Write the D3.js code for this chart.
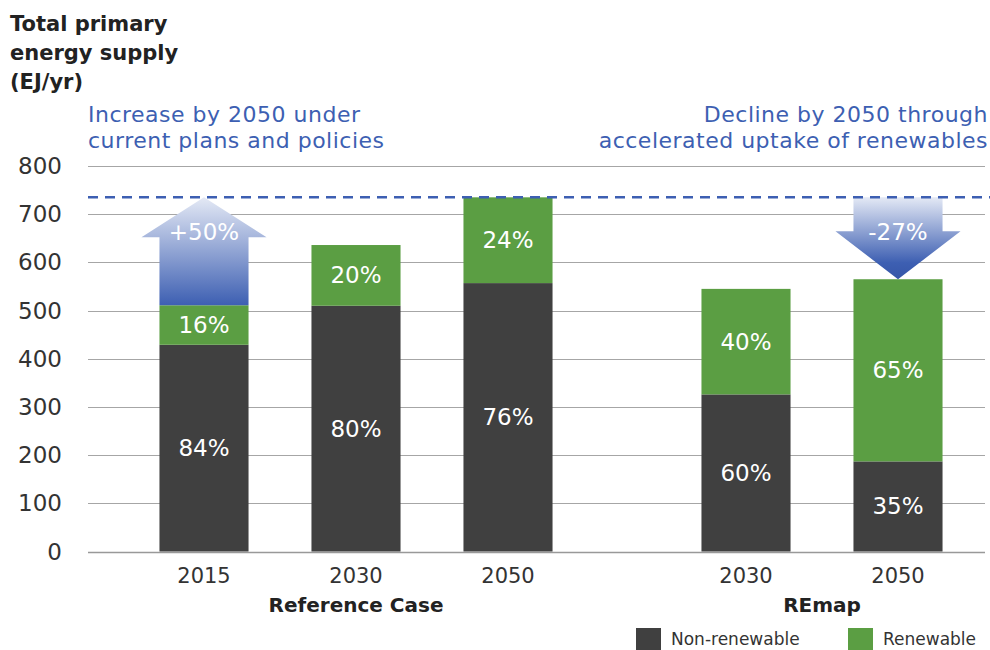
<!DOCTYPE html>
<html>
<head>
<meta charset="utf-8">
<script src="https://cdn.jsdelivr.net/npm/d3@7"></script>
<style>
  html, body { margin: 0; padding: 0; background: #fff; }
  svg { display: block; font-family: "DejaVu Sans", "Open Sans", sans-serif; }
</style>
</head>
<body>
<svg id="chart"></svg>
<script>
// data
const refYears = ['2015', '2030', '2050'];
const refNonRenewable = [429, 510, 557];
const refRenewable = [82, 126, 178];
const refShares = [['84%', '16%'], ['80%', '20%'], ['76%', '24%']];

const remapYears = ['2030', '2050'];
const remapNonRenewable = [326, 187];
const remapRenewable = [219, 378];
const remapShares = [['60%', '40%'], ['35%', '65%']];

const yTicks = [0, 100, 200, 300, 400, 500, 600, 700, 800];
const peakLevel = 735;
const arrowLabels = ['+50%', '-27%'];

const width = 990;
const height = 650;
const colors = { non: '#404040', ren: '#5b9e43', blue: '#3d5fb2', grid: '#a6a6a6', text: '#333' };

const svg = d3.select('#chart').attr('width', width).attr('height', height);

const y = d3.scaleLinear().domain([0, 800]).range([551.5, 166]);

const xRef = d3.scaleBand().domain(refYears).range([128, 584]).paddingInner(0.414).paddingOuter(0.207);
const xRemap = d3.scaleBand().domain(remapYears).range([670, 974]).paddingInner(0.414).paddingOuter(0.207);

// gridlines
svg.append('g')
  .selectAll('line')
  .data(yTicks)
  .join('line')
  .attr('x1', 88)
  .attr('x2', 985)
  .attr('y1', d => Math.round(y(d)) + 0.5)
  .attr('y2', d => Math.round(y(d)) + 0.5)
  .attr('stroke', d => d === 0 ? '#999' : colors.grid)
  .attr('stroke-width', d => d === 0 ? 1.6 : 1.2);

// y tick labels
svg.append('g')
  .selectAll('text')
  .data(yTicks)
  .join('text')
  .attr('x', 62)
  .attr('y', d => y(d) + 8)
  .attr('text-anchor', 'end')
  .attr('font-size', 23)
  .attr('fill', colors.text)
  .text(d => d);

// bars
const bars = [
  ...refYears.map((yr, i) => ({ x: xRef(yr), w: xRef.bandwidth(), non: refNonRenewable[i], ren: refRenewable[i], share: refShares[i], label: yr })),
  ...remapYears.map((yr, i) => ({ x: xRemap(yr), w: xRemap.bandwidth(), non: remapNonRenewable[i], ren: remapRenewable[i], share: remapShares[i], label: yr }))
];

const barG = svg.append('g');
barG.selectAll('rect.non')
  .data(bars)
  .join('rect')
  .attr('class', 'non')
  .attr('x', d => d.x)
  .attr('width', d => d.w)
  .attr('y', d => y(d.non))
  .attr('height', d => y(0) - y(d.non))
  .attr('fill', colors.non);

barG.selectAll('rect.ren')
  .data(bars)
  .join('rect')
  .attr('class', 'ren')
  .attr('x', d => d.x)
  .attr('width', d => d.w)
  .attr('y', d => y(d.non + d.ren))
  .attr('height', d => y(d.non) - y(d.non + d.ren))
  .attr('fill', colors.ren);

// share labels
barG.selectAll('text.nonlab')
  .data(bars)
  .join('text')
  .attr('x', d => d.x + d.w / 2)
  .attr('y', d => (y(0) + y(d.non)) / 2 + 8)
  .attr('text-anchor', 'middle')
  .attr('font-size', 23)
  .attr('fill', '#fff')
  .text(d => d.share[0]);

barG.selectAll('text.renlab')
  .data(bars)
  .join('text')
  .attr('x', d => d.x + d.w / 2)
  .attr('y', d => (y(d.non) + y(d.non + d.ren)) / 2 + 8)
  .attr('text-anchor', 'middle')
  .attr('font-size', 23)
  .attr('fill', '#fff')
  .text(d => d.share[1]);

// x labels
svg.append('g')
  .selectAll('text')
  .data(bars)
  .join('text')
  .attr('x', d => d.x + d.w / 2)
  .attr('y', 583)
  .attr('text-anchor', 'middle')
  .attr('font-size', 21)
  .attr('fill', colors.text)
  .text(d => d.label);

svg.append('text')
  .attr('x', (xRef('2015') + xRef('2050') + xRef.bandwidth()) / 2)
  .attr('y', 612)
  .attr('text-anchor', 'middle')
  .attr('font-size', 20)
  .attr('font-weight', 'bold')
  .attr('fill', '#222')
  .text('Reference Case');

svg.append('text')
  .attr('x', (xRemap('2030') + xRemap('2050') + xRemap.bandwidth()) / 2)
  .attr('y', 612)
  .attr('text-anchor', 'middle')
  .attr('font-size', 20)
  .attr('font-weight', 'bold')
  .attr('fill', '#222')
  .text('REmap');

// gradients for arrows
const defs = svg.append('defs');
const gradUp = defs.append('linearGradient').attr('id', 'gradUp').attr('x1', 0).attr('y1', 1).attr('x2', 0).attr('y2', 0);
gradUp.append('stop').attr('offset', '0%').attr('stop-color', '#3d5fb2');
gradUp.append('stop').attr('offset', '100%').attr('stop-color', '#e4e9f5');
const gradDown = defs.append('linearGradient').attr('id', 'gradDown').attr('x1', 0).attr('y1', 0).attr('x2', 0).attr('y2', 1);
gradDown.append('stop').attr('offset', '0%').attr('stop-color', '#e4e9f5');
gradDown.append('stop').attr('offset', '80%').attr('stop-color', '#3d5fb2');
gradDown.append('stop').attr('offset', '100%').attr('stop-color', '#3556a8');

// up arrow over 2015
{
  const x0 = xRef('2015'), w = xRef.bandwidth();
  const top = y(peakLevel), bottom = y(refNonRenewable[0] + refRenewable[0]);
  const headH = 40, ear = 18;
  const pts = [
    [x0, bottom], [x0, top + headH], [x0 - ear, top + headH], [x0 + w / 2, top],
    [x0 + w + ear, top + headH], [x0 + w, top + headH], [x0 + w, bottom]
  ];
  svg.append('path').attr('d', d3.line()(pts) + 'Z').attr('fill', 'url(#gradUp)');
  svg.append('text')
    .attr('x', x0 + w / 2).attr('y', top + 43)
    .attr('text-anchor', 'middle').attr('font-size', 23).attr('fill', '#fff')
    .text(arrowLabels[0]);
}

// down arrow over REmap 2050
{
  const x0 = xRemap('2050'), w = xRemap.bandwidth();
  const top = y(peakLevel), bottom = y(remapNonRenewable[1] + remapRenewable[1]);
  const headH = 48, ear = 18;
  const pts = [
    [x0, top], [x0, bottom - headH], [x0 - ear, bottom - headH], [x0 + w / 2, bottom],
    [x0 + w + ear, bottom - headH], [x0 + w, bottom - headH], [x0 + w, top]
  ];
  svg.append('path').attr('d', d3.line()(pts) + 'Z').attr('fill', 'url(#gradDown)');
  svg.append('text')
    .attr('x', x0 + w / 2).attr('y', top + 43)
    .attr('text-anchor', 'middle').attr('font-size', 23).attr('fill', '#fff')
    .text(arrowLabels[1]);
}

// dashed peak line
svg.append('line')
  .attr('x1', 88).attr('x2', 990)
  .attr('y1', y(peakLevel)).attr('y2', y(peakLevel))
  .attr('stroke', colors.blue)
  .attr('stroke-width', 2.5)
  .attr('stroke-dasharray', '10,7');

// titles
const title = svg.append('text').attr('font-size', 21).attr('font-weight', 'bold').attr('fill', '#222');
['Total primary', 'energy supply', '(EJ/yr)'].forEach((t, i) => {
  title.append('tspan').attr('x', 10).attr('y', 31 + i * 29).text(t);
});

const leftNote = svg.append('text').attr('font-size', 22).attr('letter-spacing', 0.5).attr('fill', colors.blue);
['Increase by 2050 under', 'current plans and policies'].forEach((t, i) => {
  leftNote.append('tspan').attr('x', 88).attr('y', 122 + i * 26).text(t);
});

const rightNote = svg.append('text').attr('font-size', 22).attr('letter-spacing', 0.5).attr('fill', colors.blue).attr('text-anchor', 'end');
['Decline by 2050 through', 'accelerated uptake of renewables'].forEach((t, i) => {
  rightNote.append('tspan').attr('x', 988).attr('y', 122 + i * 26).text(t);
});

// legend
const legendItems = [
  { label: 'Non-renewable', color: colors.non, x: 636 },
  { label: 'Renewable', color: colors.ren, x: 848 }
];
const legend = svg.append('g').selectAll('g').data(legendItems).join('g');
legend.append('rect')
  .attr('x', d => d.x).attr('y', 628).attr('width', 25).attr('height', 24)
  .attr('fill', d => d.color);
legend.append('text')
  .attr('x', d => d.x + 35).attr('y', 645)
  .attr('font-size', 17).attr('fill', colors.text)
  .text(d => d.label);
</script>
</body>
</html>
